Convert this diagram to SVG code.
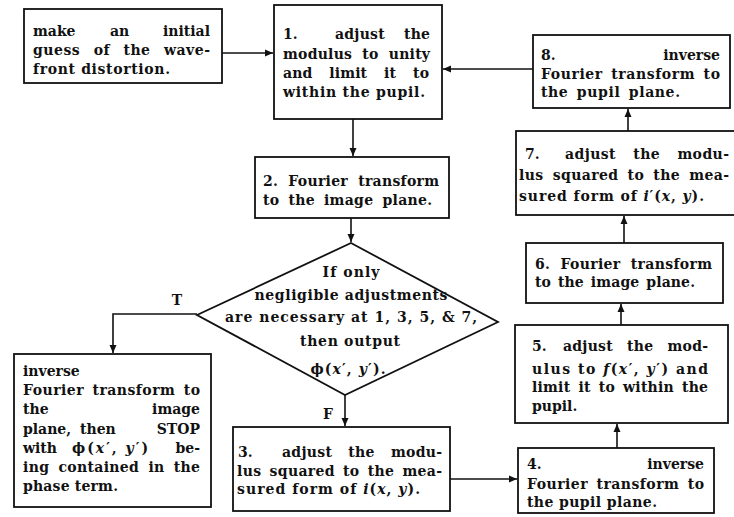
<svg xmlns="http://www.w3.org/2000/svg" width="734" height="517" viewBox="0 0 734 517">
<style>
.t{font-family:"DejaVu Serif","Liberation Serif",serif;font-size:14px;font-weight:bold;fill:#111}
.m{text-anchor:middle}
.e{text-anchor:end}
.i{font-style:italic}
.box{fill:#fff;stroke:#111;stroke-width:1.8}
.c{fill:none;stroke:#111;stroke-width:1.6}
</style>
<defs>
<marker id="a" viewBox="0 0 8 8" refX="8" refY="4" markerWidth="8" markerHeight="8" markerUnits="userSpaceOnUse" orient="auto">
<path d="M0,0.5 L8,4 L0,7.5 z" fill="#111"/>
</marker>
</defs>
<rect width="734" height="517" fill="#fff"/>

<g id="connectors">
<line class="c" x1="222" y1="53" x2="273" y2="53" marker-end="url(#a)"/>
<line class="c" x1="533" y1="69" x2="443" y2="69" marker-end="url(#a)"/>
<line class="c" x1="353" y1="119" x2="353" y2="156" marker-end="url(#a)"/>
<line class="c" x1="351" y1="218" x2="351" y2="242" marker-end="url(#a)"/>
<polyline class="c" points="197,314 113,314 113,353" marker-end="url(#a)"/>
<line class="c" x1="345" y1="395" x2="345" y2="426" marker-end="url(#a)"/>
<line class="c" x1="450" y1="479" x2="517" y2="479" marker-end="url(#a)"/>
<line class="c" x1="617" y1="448" x2="617" y2="424" marker-end="url(#a)"/>
<line class="c" x1="621" y1="325" x2="621" y2="304" marker-end="url(#a)"/>
<line class="c" x1="624" y1="243" x2="624" y2="216" marker-end="url(#a)"/>
<line class="c" x1="628" y1="131" x2="628" y2="109" marker-end="url(#a)"/>
<text class="t m" x="177" y="305">T</text>
<text class="t m" x="328" y="419">F</text>
</g>

<g id="start">
<rect class="box" x="24" y="9" width="198" height="74"/>
<text class="t" x="33" y="36">make</text>
<text class="t" x="110" y="36">an</text>
<text class="t e" x="210" y="36">initial</text>
<text class="t" x="33" y="55" textLength="177" lengthAdjust="spacing" word-spacing="8">guess of the wave-</text>
<text class="t" x="33" y="74" textLength="137" lengthAdjust="spacing">front distortion.</text>
</g>

<g id="step1">
<rect class="box" x="274" y="5" width="168" height="114"/>
<text class="t" x="283" y="39">1.</text>
<text class="t" x="335" y="39" textLength="95" lengthAdjust="spacing" word-spacing="14">adjust the</text>
<text class="t" x="283" y="59" textLength="147" lengthAdjust="spacing" word-spacing="5">modulus to unity</text>
<text class="t" x="283" y="78" textLength="146" lengthAdjust="spacing" word-spacing="12">and limit it to</text>
<text class="t" x="283" y="97" textLength="142" lengthAdjust="spacing">within the pupil.</text>
</g>

<g id="step2">
<rect class="box" x="255" y="157" width="194" height="61"/>
<text class="t" x="263" y="186" textLength="176" lengthAdjust="spacing" word-spacing="5">2. Fourier transform</text>
<text class="t" x="263" y="205" textLength="169" lengthAdjust="spacing" word-spacing="4">to the image plane.</text>
</g>

<g id="decision">
<polygon class="box" points="351,243 498,322 345,395 197,315"/>
<text class="t m" x="351" y="277" textLength="57" lengthAdjust="spacing">If only</text>
<text class="t m" x="351" y="300" textLength="193" lengthAdjust="spacing">negligible adjustments</text>
<text class="t m" x="351" y="322" textLength="252" lengthAdjust="spacing">are necessary at 1, 3, 5, &amp; 7,</text>
<text class="t m" x="350" y="346" textLength="100" lengthAdjust="spacing">then output</text>
<text class="t m" x="348" y="374" textLength="75" lengthAdjust="spacing">ϕ(<tspan class="i">x</tspan>′, <tspan class="i">y</tspan>′).</text>
</g>

<g id="stop">
<rect class="box" x="14" y="354" width="197" height="153"/>
<text class="t" x="23" y="376">inverse</text>
<text class="t" x="23" y="395" textLength="177" lengthAdjust="spacing" word-spacing="3">Fourier transform to</text>
<text class="t" x="23" y="414">the</text>
<text class="t e" x="200" y="414">image</text>
<text class="t" x="23" y="434">plane,</text>
<text class="t" x="80" y="434">then</text>
<text class="t e" x="200" y="434" font-size="15">STOP</text>
<text class="t" x="23" y="453">with</text>
<text class="t" x="72" y="453" textLength="76" lengthAdjust="spacing">ϕ(<tspan class="i">x</tspan>′, <tspan class="i">y</tspan>′)</text>
<text class="t e" x="200" y="453">be-</text>
<text class="t" x="23" y="472" textLength="177" lengthAdjust="spacing" word-spacing="4">ing contained in the</text>
<text class="t" x="23" y="491" textLength="95" lengthAdjust="spacing">phase term.</text>
</g>

<g id="step3">
<rect class="box" x="233" y="427" width="217" height="84"/>
<text class="t" x="238" y="457">3.</text>
<text class="t" x="282" y="457" textLength="160" lengthAdjust="spacing" word-spacing="11">adjust the modu-</text>
<text class="t" x="237" y="476" textLength="205" lengthAdjust="spacing" word-spacing="3">lus squared to the mea-</text>
<text class="t" x="237" y="494" textLength="183" lengthAdjust="spacing">sured form of <tspan class="i">i</tspan>(<tspan class="i">x</tspan>, <tspan class="i">y</tspan>).</text>
</g>

<g id="step4">
<rect class="box" x="518" y="448" width="196" height="65"/>
<text class="t" x="527" y="469">4.</text>
<text class="t e" x="704" y="469">inverse</text>
<text class="t" x="527" y="489" textLength="177" lengthAdjust="spacing" word-spacing="3">Fourier transform to</text>
<text class="t" x="527" y="507" textLength="130" lengthAdjust="spacing">the pupil plane.</text>
</g>

<g id="step5">
<rect class="box" x="515" y="325" width="213" height="98"/>
<text class="t" x="532" y="351">5.</text>
<text class="t" x="563" y="351" textLength="145" lengthAdjust="spacing" word-spacing="9">adjust the mod-</text>
<text class="t" x="532" y="374" textLength="176" lengthAdjust="spacing">ulus to <tspan class="i">f</tspan>(<tspan class="i">x</tspan>′, <tspan class="i">y</tspan>′) and</text>
<text class="t" x="532" y="392" textLength="176" lengthAdjust="spacing" word-spacing="3">limit it to within the</text>
<text class="t" x="532" y="411">pupil.</text>
</g>

<g id="step6">
<rect class="box" x="526" y="243" width="197" height="60"/>
<text class="t" x="535" y="269" textLength="177" lengthAdjust="spacing" word-spacing="5">6. Fourier transform</text>
<text class="t" x="535" y="287" textLength="160" lengthAdjust="spacing" word-spacing="2">to the image plane.</text>
</g>

<g id="step7">
<rect class="box" x="516" y="131" width="222" height="84"/>
<text class="t" x="525" y="159">7.</text>
<text class="t" x="565" y="159" textLength="164" lengthAdjust="spacing" word-spacing="12">adjust the modu-</text>
<text class="t" x="519" y="180" textLength="210" lengthAdjust="spacing" word-spacing="4">lus squared to the mea-</text>
<text class="t" x="519" y="201" textLength="185" lengthAdjust="spacing">sured form of <tspan class="i">i</tspan>′(<tspan class="i">x</tspan>, <tspan class="i">y</tspan>).</text>
</g>

<g id="step8">
<rect class="box" x="533" y="35" width="197" height="73"/>
<text class="t" x="541" y="60">8.</text>
<text class="t e" x="720" y="60">inverse</text>
<text class="t" x="541" y="79" textLength="179" lengthAdjust="spacing" word-spacing="3">Fourier transform to</text>
<text class="t" x="541" y="97" textLength="139" lengthAdjust="spacing" word-spacing="3">the pupil plane.</text>
</g>
</svg>
